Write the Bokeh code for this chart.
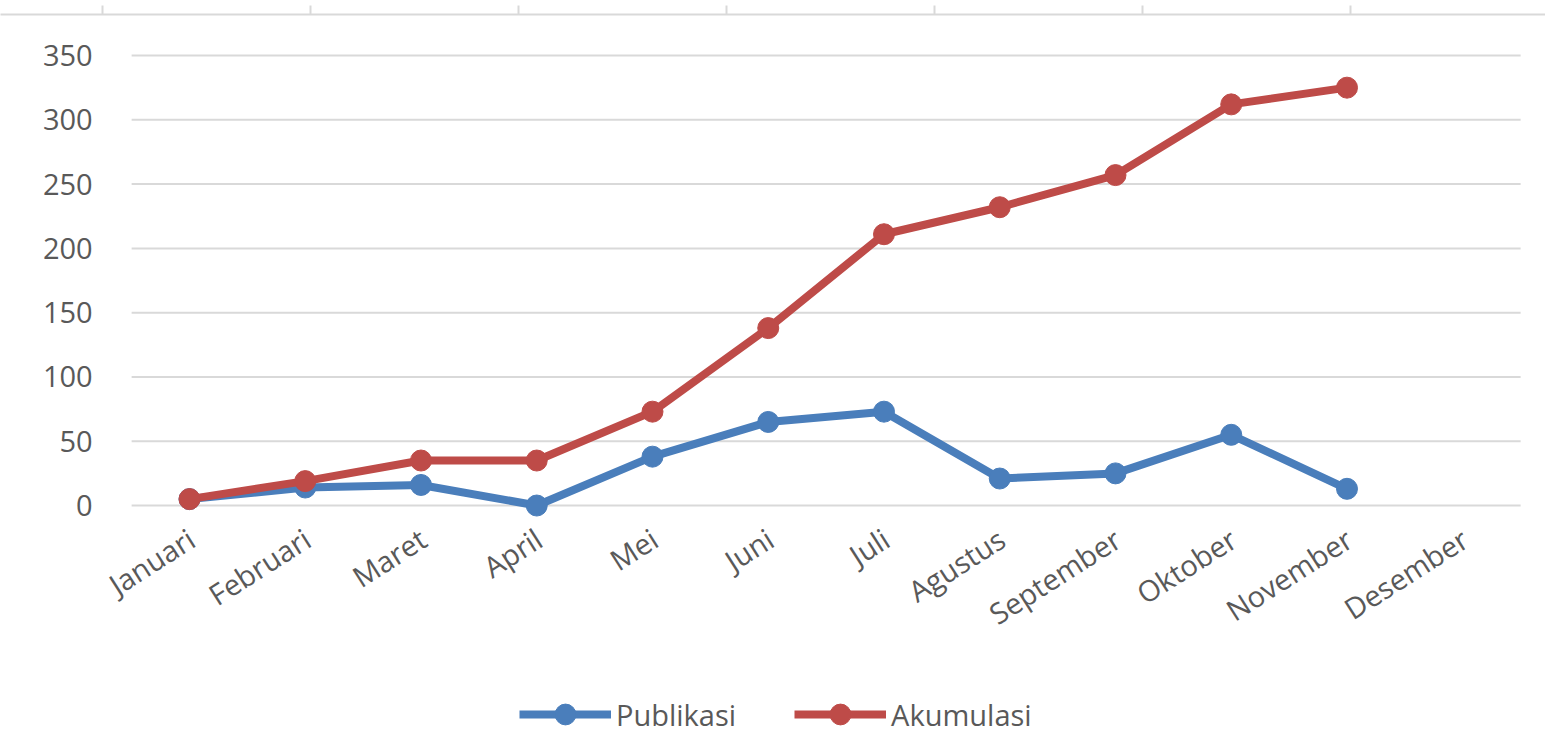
from bokeh.plotting import figure
from bokeh.models import (Range1d, LinearAxis, FixedTicker, Legend, LegendItem)
from bokeh.core.properties import value
from bokeh.embed import file_html
from bokeh.resources import INLINE

months = ["Januari", "Februari", "Maret", "April", "Mei", "Juni", "Juli",
          "Agustus", "September", "Oktober", "November", "Desember"]
publikasi = [5, 14, 16, 0, 38, 65, 73, 21, 25, 55, 13]
akumulasi = [5, 19, 35, 35, 73, 138, 211, 232, 257, 312, 325]
y_ticks = [0, 50, 100, 150, 200, 250, 300, 350]
y_labels = ["0", "50", "100", "150", "200", "250", "300", "350"]

BLUE = "#4A7EBB"
RED = "#BE4B48"
TEXT = "#595959"
GRID = "#D9D9D9"
FONT = "Open Sans"

x_pub = list(range(len(publikasi)))
x_aku = list(range(len(akumulasi)))
x_months = list(range(len(months)))
n = len(months)

p = figure(width=1545, height=747, output_backend="svg", toolbar_location=None,
           x_range=Range1d(-1.6328, 11.7149), y_range=Range1d(-188.2, 381.9),
           min_border_left=0, min_border_right=0, min_border_top=14,
           min_border_bottom=0, outline_line_color=None)
p.axis.visible = False
p.grid.visible = False

# horizontal gridlines across the category span
p.segment(x0=[-0.5] * len(y_ticks), x1=[n - 0.5] * len(y_ticks), y0=y_ticks, y1=y_ticks,
          line_color=GRID, line_width=2)

# y tick labels
p.text(x=[-0.5] * len(y_ticks), y=y_ticks, text=y_labels, x_offset=-39,
       text_align="right", text_baseline="middle",
       text_font=value(FONT), text_font_size="29px", text_color=TEXT)

# top faint axis line with ticks
p.extra_x_ranges = {"top": Range1d(-0.4904, 6.9375)}
tx = LinearAxis(x_range_name="top", ticker=FixedTicker(ticks=[0, 1, 2, 3, 4, 5, 6]))
tx.axis_line_color = GRID
tx.axis_line_width = 2
tx.major_tick_line_color = GRID
tx.major_tick_line_width = 2
tx.major_tick_out = 9
tx.major_tick_in = 0
tx.minor_tick_line_color = None
tx.major_label_text_font_size = "0px"
tx.major_label_standoff = 0
tx.major_label_overrides = {i: "" for i in range(0, 7)}
p.add_layout(tx, "above")

# category labels (rotated), anchored just below the zero line
p.text(x=x_months, y=[0] * n, text=months, angle=0.57,
       text_align="right", text_baseline="middle", x_offset=2, y_offset=30,
       text_font=value(FONT), text_font_size="29px", text_color=TEXT)

l1 = p.line(x_pub, publikasi, line_color=BLUE, line_width=8)
s1 = p.scatter(x_pub, publikasi, size=21, fill_color=BLUE, line_color=BLUE)
l2 = p.line(x_aku, akumulasi, line_color=RED, line_width=8)
s2 = p.scatter(x_aku, akumulasi, size=21, fill_color=RED, line_color=RED)

legend = Legend(items=[LegendItem(label="Publikasi", renderers=[l1, s1]),
                       LegendItem(label="Akumulasi", renderers=[l2, s2])],
                location=(519, 7), orientation="horizontal",
                glyph_width=92, glyph_height=52, label_standoff=5, spacing=58,
                label_text_font=FONT, label_text_font_size="29px",
                label_text_color=TEXT, border_line_color=None,
                background_fill_alpha=0, padding=4, margin=0)
p.add_layout(legend, "center")

open("out.html", "w").write(file_html(p, INLINE))
